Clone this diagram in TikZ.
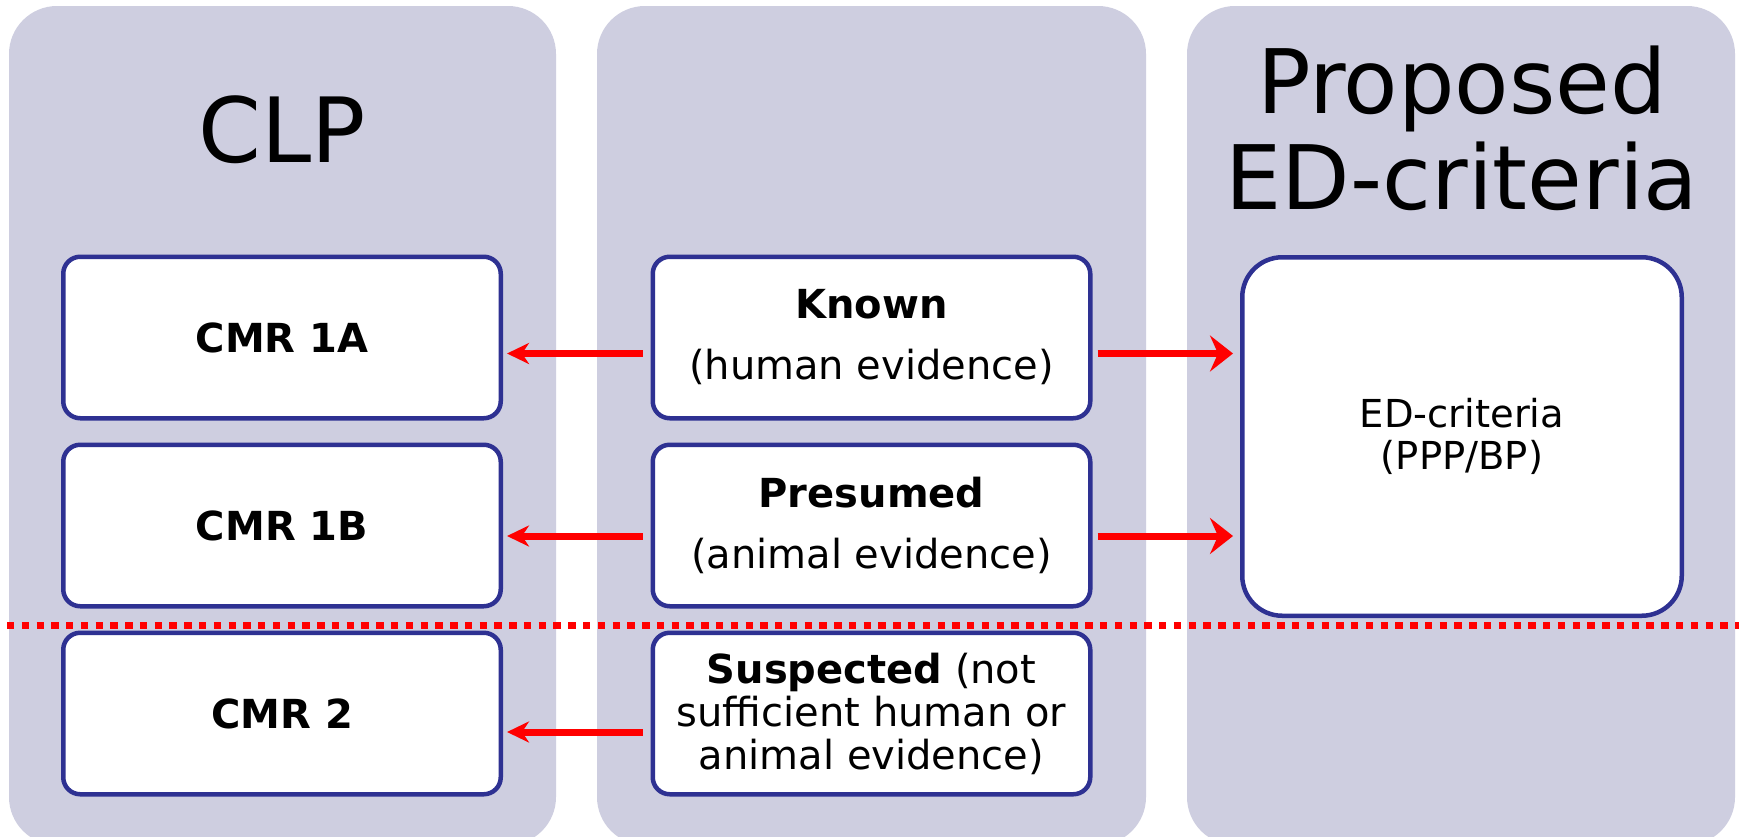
\documentclass[tikz,border=0pt]{standalone}
\usepackage{fontspec}
\setmainfont{DejaVu Sans}
\usetikzlibrary{arrows.meta}
\definecolor{panelc}{RGB}{206,206,224}
\definecolor{boxc}{RGB}{46,49,146}
\definecolor{arrc}{RGB}{255,0,0}
\tikzset{
  panel/.style={fill=panelc, rounded corners=48pt},
  cbox/.style={draw=boxc, fill=white, line width=4.5pt, rounded corners=17pt,
    minimum width=437.5pt, minimum height=161.5pt, inner sep=0pt, align=center},
  edbox/.style={draw=boxc, fill=white, line width=4.5pt, rounded corners=40pt,
    minimum width=439.5pt, minimum height=358.5pt, inner sep=0pt, align=center,
    font=\fontsize{38.5}{42}\selectfont},
  bigtitle/.style={anchor=base, inner sep=0pt, font=\fontsize{90}{100}\selectfont},
  boldtxt/.style={font=\fontsize{40}{48}\selectfont\bfseries},
  twoline/.style={font=\fontsize{40}{61}\selectfont},
  threeline/.style={font=\fontsize{40}{43}\selectfont},
  larr/.style={draw=arrc, line width=7pt,
    -{Stealth[length=22pt, width=21pt, inset=7pt]}, shorten <=8pt, shorten >=4pt},
  rarr/.style={draw=arrc, line width=7pt,
    -{Stealth[length=23pt, width=36pt, inset=8pt]}, shorten <=5pt, shorten >=7pt},
  sepline/.style={draw=arrc, line width=7pt, dash pattern=on 7.4pt off 7.37pt}
}
\begin{document}
\begin{tikzpicture}[x=1pt, y=-1pt]
\useasboundingbox[fill=white] (0,0) rectangle (1739,836);
% panels
\begin{scope}
\clip (0,0) rectangle (1739,836);
\fill[panel] (9,6) rectangle (556,845);
\fill[panel] (597,6) rectangle (1146,845);
\fill[panel] (1187,6) rectangle (1735,845);
\end{scope}
% titles
\node[bigtitle] (clp) at (282,162) {CLP};
\node[bigtitle, font=\fontsize{89}{97}\selectfont] (prop) at (1462,113) {Proposed};
\node[bigtitle, font=\fontsize{89}{97}\selectfont] (edc) at (1462,209.5) {ED-criteria};
% left boxes
\node[cbox, boldtxt] (cmr1a) at (282,337.5) {CMR 1A};
\node[cbox, boldtxt] (cmr1b) at (282,525.5) {CMR 1B};
\node[cbox, boldtxt] (cmr2) at (282,713.5) {CMR 2};
% middle boxes
\node[cbox, twoline] (known) at (871.5,337.5) {\textbf{Known}\\(human evidence)};
\node[cbox, twoline] (presumed) at (871.5,525.5) {\textbf{Presumed}\\(animal evidence)};
\node[cbox, threeline] (suspected) at (871.5,713.5) {\textbf{Suspected} (not\\sufficient human or\\animal evidence)};
% ED box
\node[edbox] (ed) at (1462,436.5) {ED-criteria\\(PPP/BP)};
% separator
\coordinate (sl) at (7,625);
\coordinate (sr) at (1739,625);
\draw[sepline] (sl) -- (sr);
% arrows
\coordinate (a1) at ([yshift=-16pt]known.west);
\coordinate (a2) at ([yshift=-10.5pt]presumed.west);
\coordinate (a3) at ([yshift=-18.5pt]suspected.west);
\coordinate (b1) at ([yshift=-16pt]known.east);
\coordinate (b2) at ([yshift=-10.5pt]presumed.east);
\draw[larr] (a1) -- (cmr1a.east |- a1);
\draw[larr] (a2) -- (cmr1b.east |- a2);
\draw[larr] (a3) -- (cmr2.east |- a3);
\draw[rarr] (b1) -- (ed.west |- b1);
\draw[rarr] (b2) -- (ed.west |- b2);
\end{tikzpicture}
\end{document}
